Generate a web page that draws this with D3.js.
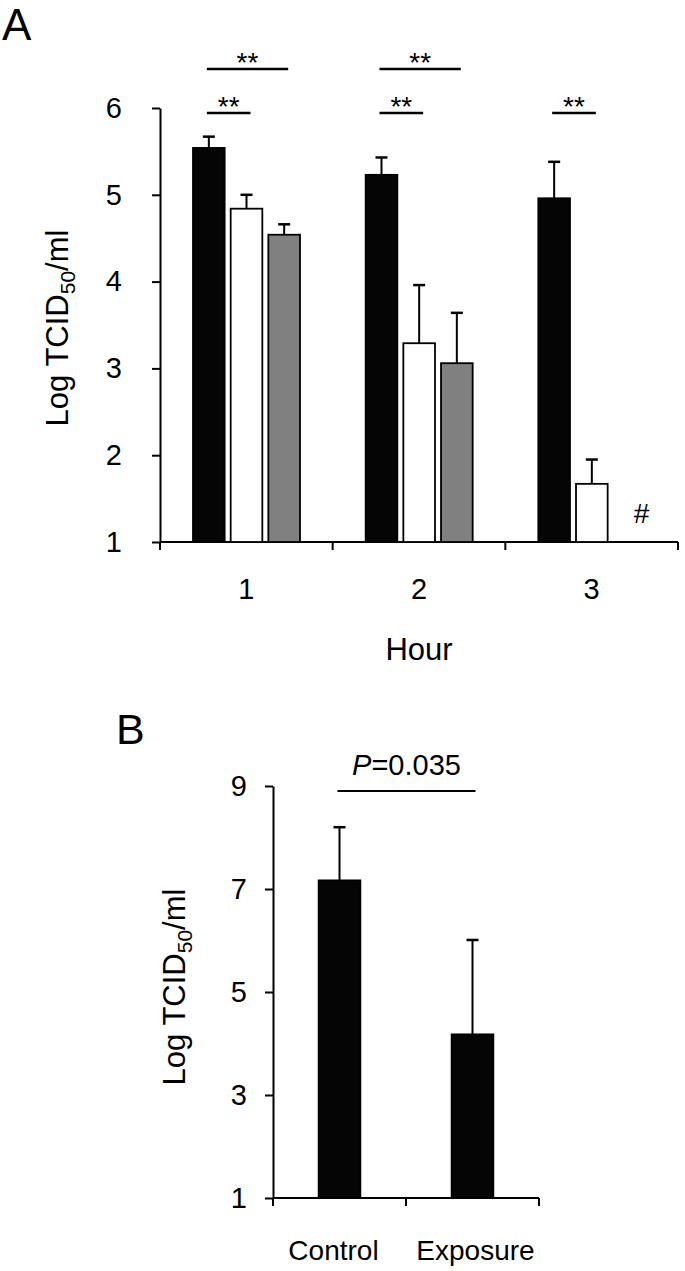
<!DOCTYPE html>
<html>
<head>
<meta charset="utf-8">
<script src="https://cdn.jsdelivr.net/npm/d3@7"></script>
<style>
  body { margin: 0; background: #fff; }
  text { font-family: "Liberation Sans", Arial, sans-serif; fill: #000; }
</style>
</head>
<body>
<div id="chart"></div>
<script>
// Panel A data: virus titre per hour, three groups (black, white, gray bars)
var hours = ["1", "2", "3"];
var groups = ["g1", "g2", "g3"];
var groupFill = { g1: "#050505", g2: "#ffffff", g3: "#808080" };
var meansA = [
  [5.54, 4.84, 4.54],
  [5.23, 3.29, 3.06],
  [4.96, 1.67, null]
];
var errTopA = [
  [5.67, 5.00, 4.66],
  [5.43, 3.96, 3.64],
  [5.38, 1.95, null]
];
var ticksA = [1, 2, 3, 4, 5, 6];
// significance brackets: [hour index, from group, to group, level]
var sigA = [
  [0, 0, 1, "low"], [0, 0, 2, "high"],
  [1, 0, 1, "low"], [1, 0, 2, "high"],
  [2, 0, 1, "low"]
];

// Panel B data
var condB = ["Control", "Exposure"];
var meansB = [7.17, 4.18];
var errTopB = [8.2, 6.01];
var ticksB = [1, 3, 5, 7, 9];
var pText = "=0.035";

var W = 685, H = 1271;
var svg = d3.select("#chart").append("svg")
  .attr("width", W).attr("height", H);

//////// PANEL A ////////
var xA = d3.scaleBand().domain(hours).range([160, 678]).padding(0);
var inner = d3.scaleBand().domain(groups)
  .range([33, 140]).paddingInner(0.16);
var yA = d3.scaleLinear().domain([1, 6]).range([542, 108]);

svg.append("text").attr("x", 2).attr("y", 40)
  .style("font-size", "44px").text("A");

// y axis
svg.append("g").attr("transform", "translate(160,0)")
  .call(d3.axisLeft(yA).tickValues(ticksA).tickFormat(d3.format("d"))
    .tickSize(8).tickSizeOuter(0).tickPadding(30));

// x axis with ticks between categories
var gxA = svg.append("g").attr("transform", "translate(0,542)");
gxA.append("line").attr("x1", 160).attr("x2", 678).attr("y1", 0).attr("y2", 0);
var bounds = hours.map(function (h) { return xA(h); }).concat([xA.range()[1]]);
gxA.selectAll(".tk").data(bounds).enter().append("line")
  .attr("x1", function (d) { return d; }).attr("x2", function (d) { return d; })
  .attr("y1", 0).attr("y2", 8);
gxA.selectAll("line").attr("stroke", "#000").attr("stroke-width", 2);
gxA.selectAll(".lab").data(hours).enter().append("text")
  .attr("x", function (d) { return xA(d) + xA.bandwidth() / 2; })
  .attr("y", 57).attr("text-anchor", "middle")
  .style("font-size", "29px").text(function (d) { return d; });

svg.append("text").attr("x", 419).attr("y", 660).attr("text-anchor", "middle")
  .style("font-size", "31px").text("Hour");

// y label
var ylA = svg.append("text")
  .attr("transform", "translate(68,328) rotate(-90)")
  .attr("text-anchor", "middle").style("font-size", "31px");
ylA.append("tspan").text("Log TCID");
ylA.append("tspan").attr("dy", 7).style("font-size", "21px").text("50");
ylA.append("tspan").attr("dy", -7).text("/ml");

// bars
var flat = [];
hours.forEach(function (h, i) {
  groups.forEach(function (g, j) {
    if (meansA[i][j] !== null) flat.push({ h: h, g: g, v: meansA[i][j], e: errTopA[i][j] });
  });
});
function bx(d) { return xA(d.h) + inner(d.g); }

svg.append("g").selectAll("line").data(flat).enter().append("line")
  .attr("x1", function (d) { return bx(d) + inner.bandwidth() / 2; })
  .attr("x2", function (d) { return bx(d) + inner.bandwidth() / 2; })
  .attr("y1", function (d) { return yA(d.v); })
  .attr("y2", function (d) { return yA(d.e); })
  .attr("stroke", "#000").attr("stroke-width", 2);
svg.append("g").selectAll("line").data(flat).enter().append("line")
  .attr("x1", function (d) { return bx(d) + inner.bandwidth() / 2 - 6; })
  .attr("x2", function (d) { return bx(d) + inner.bandwidth() / 2 + 6; })
  .attr("y1", function (d) { return yA(d.e); })
  .attr("y2", function (d) { return yA(d.e); })
  .attr("stroke", "#000").attr("stroke-width", 2.5);

svg.append("g").selectAll("rect").data(flat).enter().append("rect")
  .attr("x", bx)
  .attr("y", function (d) { return yA(d.v); })
  .attr("width", inner.bandwidth())
  .attr("height", function (d) { return yA(1) - yA(d.v); })
  .attr("fill", function (d) { return groupFill[d.g]; })
  .attr("stroke", "#000").attr("stroke-width", 1.8);

// missing gray bar at hour 3
svg.append("text")
  .attr("x", xA("3") + inner("g3") + inner.bandwidth() / 2 + 12)
  .attr("y", 523).attr("text-anchor", "middle")
  .style("font-size", "28px").text("#");

// significance marks
var sigY = { low: 113, high: 69 };
sigA.forEach(function (s) {
  var h = hours[s[0]];
  var x1 = xA(h) + inner(groups[s[1]]) + inner.bandwidth() / 2 - 2;
  var x2 = xA(h) + inner(groups[s[2]]) + inner.bandwidth() / 2 + 4;
  var y = sigY[s[3]];
  svg.append("line").attr("x1", x1).attr("x2", x2).attr("y1", y).attr("y2", y)
    .attr("stroke", "#000").attr("stroke-width", 2.5);
  svg.append("text").attr("x", (x1 + x2) / 2).attr("y", y + 3)
    .attr("text-anchor", "middle").style("font-size", "28px").text("**");
});

//////// PANEL B ////////
var xB = d3.scaleBand().domain(condB).range([273, 539]).paddingInner(0).paddingOuter(0);
var yB = d3.scaleLinear().domain([1, 9]).range([1198, 786]);
var bwB = 42;

svg.append("text").attr("x", 116).attr("y", 744)
  .style("font-size", "43px").text("B");

svg.append("g").attr("transform", "translate(273,0)")
  .call(d3.axisLeft(yB).tickValues(ticksB).tickFormat(d3.format("d"))
    .tickSize(8).tickSizeOuter(0).tickPadding(18));

var gxB = svg.append("g").attr("transform", "translate(0,1198)");
gxB.append("line").attr("x1", 273).attr("x2", 539).attr("y1", 0).attr("y2", 0);
var boundsB = condB.map(function (c) { return xB(c); }).concat([xB.range()[1]]);
gxB.selectAll(".tk").data(boundsB).enter().append("line")
  .attr("x1", function (d) { return d; }).attr("x2", function (d) { return d; })
  .attr("y1", 0).attr("y2", 8);
gxB.selectAll("line").attr("stroke", "#000").attr("stroke-width", 2);
gxB.selectAll(".lab").data(condB).enter().append("text")
  .attr("x", function (d, i) { return xB(d) + xB.bandwidth() / 2 + (i === 0 ? -6 : 3); })
  .attr("y", 62).attr("text-anchor", "middle")
  .style("font-size", "28px").text(function (d) { return d; });

var ylB = svg.append("text")
  .attr("transform", "translate(185,987) rotate(-90)")
  .attr("text-anchor", "middle").style("font-size", "31px");
ylB.append("tspan").text("Log TCID");
ylB.append("tspan").attr("dy", 7).style("font-size", "21px").text("50");
ylB.append("tspan").attr("dy", -7).text("/ml");

condB.forEach(function (c, i) {
  var cx = xB(c) + xB.bandwidth() / 2;
  svg.append("line").attr("x1", cx).attr("x2", cx)
    .attr("y1", yB(meansB[i])).attr("y2", yB(errTopB[i]))
    .attr("stroke", "#000").attr("stroke-width", 2);
  svg.append("line").attr("x1", cx - 6).attr("x2", cx + 6)
    .attr("y1", yB(errTopB[i])).attr("y2", yB(errTopB[i]))
    .attr("stroke", "#000").attr("stroke-width", 2.5);
  svg.append("rect").attr("x", cx - bwB / 2).attr("y", yB(meansB[i]))
    .attr("width", bwB).attr("height", yB(1) - yB(meansB[i]))
    .attr("fill", "#050505").attr("stroke", "#000").attr("stroke-width", 1.5);
});

var pl1 = xB(condB[0]) + xB.bandwidth() / 2 - 2;
var pl2 = xB(condB[1]) + xB.bandwidth() / 2 + 3;
svg.append("line").attr("x1", pl1).attr("x2", pl2).attr("y1", 791).attr("y2", 791)
  .attr("stroke", "#000").attr("stroke-width", 2);
var pt = svg.append("text").attr("x", (pl1 + pl2) / 2).attr("y", 775)
  .attr("text-anchor", "middle").style("font-size", "29px");
pt.append("tspan").style("font-style", "italic").text("P");
pt.append("tspan").text(pText);

// axis styling
svg.selectAll(".domain").attr("stroke", "#000").attr("stroke-width", 2);
svg.selectAll(".tick line").attr("stroke", "#000").attr("stroke-width", 2);
svg.selectAll(".tick text").style("font-size", "29px")
  .style("font-family", "Liberation Sans, Arial, sans-serif").attr("fill", "#000");
</script>
</body>
</html>
